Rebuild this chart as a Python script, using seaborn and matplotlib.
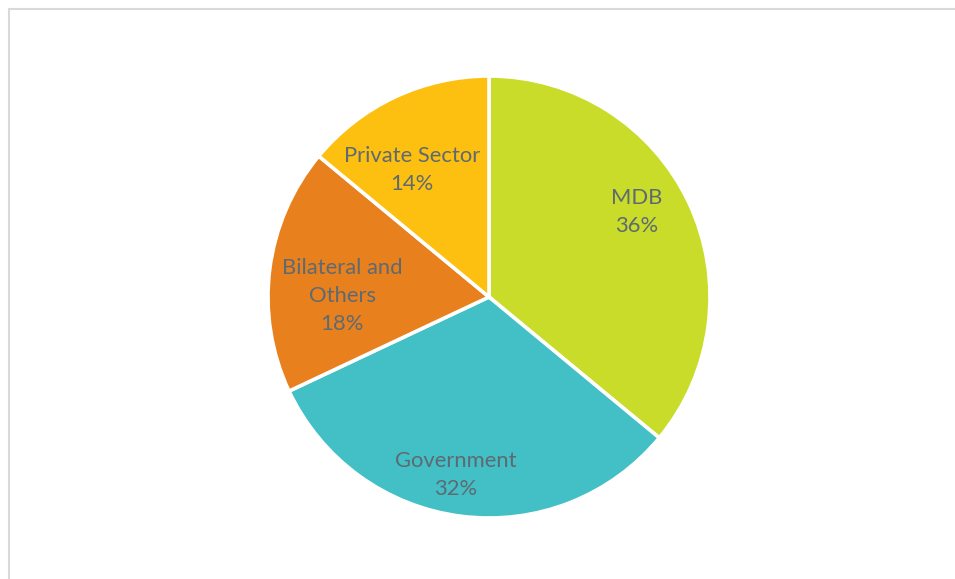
import numpy as np
import matplotlib
matplotlib.use("Agg")
import matplotlib.pyplot as plt
from matplotlib.lines import Line2D
import seaborn as sns

# Funding sources
categories = ["MDB", "Government", "Bilateral and\nOthers", "Private Sector"]
shares = [36, 32, 18, 14]
colors = ["#C9DC2A", "#42C0C6", "#E8801E", "#FDC010"]
# label placement inside each slice: radius fraction and angular nudge (deg)
label_radius = [0.77, 0.82, 0.665, 0.672]
label_shift = [4.7, -3.3, 6.8, 6.0]

sns.set_theme(style="white")
plt.rcParams["font.family"] = ["Lato", "DejaVu Sans"]

W, H = 955, 579
fig = plt.figure(figsize=(W / 100, H / 100), dpi=100)
fig.patch.set_facecolor("white")

cx, cy, r = 489, 297, 221
ax = fig.add_axes([(cx - r) / W, (H - cy - r) / H, 2 * r / W, 2 * r / H])

wedges, _ = ax.pie(
    shares,
    colors=colors,
    startangle=90,
    counterclock=False,
    wedgeprops=dict(edgecolor="white", linewidth=2.6),
)
ax.set_xlim(-1, 1)
ax.set_ylim(-1, 1)
ax.set_aspect("equal")
ax.axis("off")

total = sum(shares)
for w, cat, val, lr, sh in zip(wedges, categories, shares, label_radius, label_shift):
    mid = np.deg2rad((w.theta1 + w.theta2) / 2 + sh)
    ax.text(lr * np.cos(mid), lr * np.sin(mid),
            f"{cat}\n{val / total * 100:.0f}%",
            ha="center", va="center", fontsize=15.8, color="#5E6A72",
            linespacing=1.52)

# light frame along the top and left edges
fig.add_artist(Line2D([8.5 / W, 1], [1 - 9 / H, 1 - 9 / H], transform=fig.transFigure,
                      color="#D9D9D9", linewidth=1.5))
fig.add_artist(Line2D([8.5 / W, 8.5 / W], [0, 1 - 9 / H], transform=fig.transFigure,
                      color="#D9D9D9", linewidth=1.5))

fig.savefig("out.png", dpi=100, facecolor="white")
